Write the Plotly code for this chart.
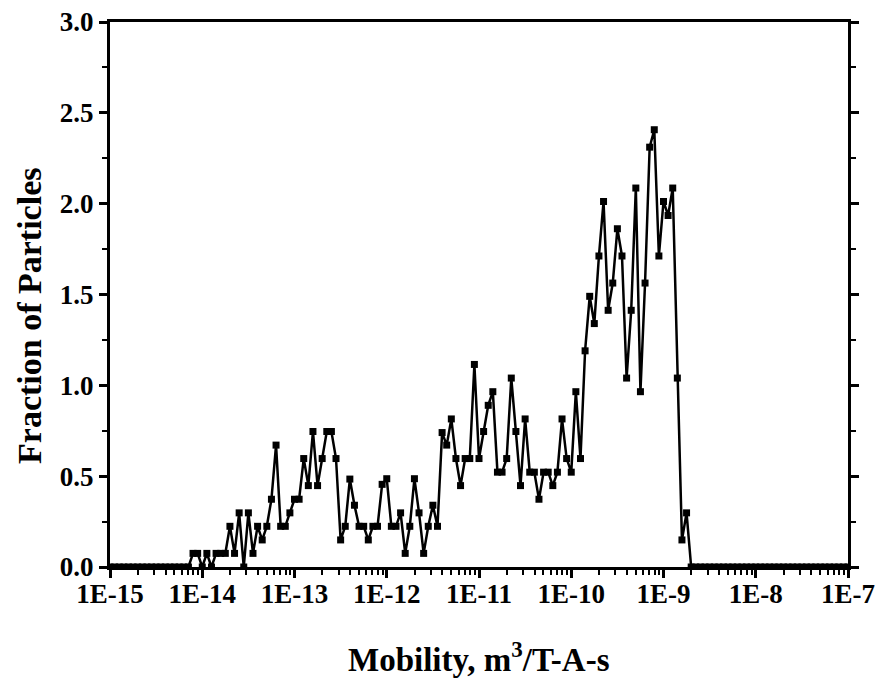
import plotly.graph_objects as go

# log10 of mobility (m^3/T-A-s)
log_mobility = [
    -15.00, -14.95, -14.90, -14.85, -14.80, -14.75, -14.70, -14.65, -14.60, -14.55,
    -14.50, -14.45, -14.40, -14.35, -14.30, -14.25, -14.20, -14.15, -14.10, -14.05,
    -14.00, -13.95, -13.90, -13.85, -13.80, -13.75, -13.70, -13.65, -13.60, -13.55,
    -13.50, -13.45, -13.40, -13.35, -13.30, -13.25, -13.20, -13.15, -13.10, -13.05,
    -13.00, -12.95, -12.90, -12.85, -12.80, -12.75, -12.70, -12.65, -12.60, -12.55,
    -12.50, -12.45, -12.40, -12.35, -12.30, -12.25, -12.20, -12.15, -12.10, -12.05,
    -12.00, -11.95, -11.90, -11.85, -11.80, -11.75, -11.70, -11.65, -11.60, -11.55,
    -11.50, -11.45, -11.40, -11.35, -11.30, -11.25, -11.20, -11.15, -11.10, -11.05,
    -11.00, -10.95, -10.90, -10.85, -10.80, -10.75, -10.70, -10.65, -10.60, -10.55,
    -10.50, -10.45, -10.40, -10.35, -10.30, -10.25, -10.20, -10.15, -10.10, -10.05,
    -10.00, -9.95, -9.90, -9.85, -9.80, -9.75, -9.70, -9.65, -9.60, -9.55,
    -9.50, -9.45, -9.40, -9.35, -9.30, -9.25, -9.20, -9.15, -9.10, -9.05,
    -9.00, -8.95, -8.90, -8.85, -8.80, -8.75, -8.70, -8.65, -8.60, -8.55,
    -8.50, -8.45, -8.40, -8.35, -8.30, -8.25, -8.20, -8.15, -8.10, -8.05,
    -8.00, -7.95, -7.90, -7.85, -7.80, -7.75, -7.70, -7.65, -7.60, -7.55,
    -7.50, -7.45, -7.40, -7.35, -7.30, -7.25, -7.20, -7.15, -7.10, -7.05,
    -7.00,
]

fraction = [
    0, 0, 0, 0, 0, 0, 0, 0, 0, 0,
    0, 0, 0, 0, 0, 0, 0, 0, 0.075, 0.075,
    0, 0.075, 0, 0.075, 0.075, 0.075, 0.224, 0.075, 0.298, 0,
    0.298, 0.075, 0.224, 0.149, 0.224, 0.373, 0.671, 0.224, 0.224, 0.298,
    0.373, 0.373, 0.597, 0.448, 0.746, 0.448, 0.597, 0.746, 0.746, 0.597,
    0.149, 0.224, 0.484, 0.340, 0.224, 0.224, 0.149, 0.224, 0.224, 0.455,
    0.486, 0.224, 0.224, 0.298, 0.075, 0.224, 0.486, 0.298, 0.075, 0.224,
    0.340, 0.224, 0.740, 0.671, 0.815, 0.597, 0.448, 0.597, 0.597, 1.115,
    0.597, 0.746, 0.890, 0.965, 0.522, 0.522, 0.597, 1.040, 0.746, 0.448,
    0.815, 0.522, 0.522, 0.373, 0.522, 0.522, 0.448, 0.522, 0.815, 0.597,
    0.522, 0.965, 0.597, 1.190, 1.490, 1.340, 1.712, 2.012, 1.413, 1.563,
    1.862, 1.712, 1.040, 1.413, 2.086, 0.965, 1.563, 2.311, 2.407, 1.712,
    2.012, 1.935, 2.086, 1.040, 0.149, 0.298, 0, 0, 0, 0,
    0, 0, 0, 0, 0, 0, 0, 0, 0, 0,
    0, 0, 0, 0, 0, 0, 0, 0, 0, 0,
    0, 0, 0, 0, 0, 0, 0, 0, 0, 0,
    0,
]

x_tick_exponents = [-15, -14, -13, -12, -11, -10, -9, -8, -7]
x_tick_labels = ["1E-15", "1E-14", "1E-13", "1E-12", "1E-11", "1E-10", "1E-9", "1E-8", "1E-7"]
y_tick_vals = [0.0, 0.5, 1.0, 1.5, 2.0, 2.5, 3.0]
y_tick_labels = ["0.0", "0.5", "1.0", "1.5", "2.0", "2.5", "3.0"]
x_title = "Mobility, m<sup>3</sup>/T-A-s"
y_title = "Fraction of Particles"

mobility = [10 ** e for e in log_mobility]
x_major = [10 ** e for e in x_tick_exponents]
x_minor = [m * 10 ** e for e in x_tick_exponents[:-1] for m in range(2, 10)]
y_minor = [0.25, 0.75, 1.25, 1.75, 2.25, 2.75]

FONT = "Liberation Serif, Times New Roman, serif"

fig = go.Figure()
fig.add_trace(go.Scatter(
    x=mobility, y=fraction, mode="lines+markers",
    line=dict(color="black", width=2.5),
    marker=dict(symbol="square", size=7, color="black"),
    showlegend=False,
))

fig.update_layout(
    width=877, height=679,
    margin=dict(l=110, r=29, t=22, b=112),
    paper_bgcolor="white", plot_bgcolor="white",
    font=dict(family=FONT, color="black"),
    xaxis=dict(
        type="log", range=[-15, -7], automargin=False,
        tickmode="array", tickvals=x_major, ticktext=x_tick_labels,
        ticks="outside", ticklen=8, tickwidth=2.5, tickcolor="black",
        ticklabelstandoff=-7,
        minor=dict(tickmode="array", tickvals=x_minor, ticks="outside",
                   ticklen=5, tickwidth=2, tickcolor="black"),
        showline=True, linewidth=3, linecolor="black", mirror=True,
        showgrid=False, zeroline=False,
        tickfont=dict(family=FONT, size=27, weight="bold"),
    ),
    yaxis=dict(
        range=[0, 3.0], automargin=False,
        tickmode="array", tickvals=y_tick_vals, ticktext=y_tick_labels,
        ticks="outside", ticklen=8, tickwidth=2.5, tickcolor="black",
        minor=dict(tickmode="array", tickvals=y_minor, ticks="outside",
                   ticklen=5, tickwidth=2, tickcolor="black"),
        showline=True, linewidth=3, linecolor="black", mirror="allticks",
        showgrid=False, zeroline=False,
        tickfont=dict(family=FONT, size=27, weight="bold"),
    ),
    annotations=[
        dict(text=x_title, xref="paper", yref="paper", x=0.5, y=0,
             xanchor="center", yanchor="middle", yshift=-90, showarrow=False,
             font=dict(family=FONT, size=33, weight="bold")),
        dict(text=y_title, xref="paper", yref="paper", x=0, y=0.4606,
             xanchor="center", yanchor="middle", xshift=-80, textangle=-90,
             showarrow=False, font=dict(family=FONT, size=34, weight="bold")),
    ],
)

fig.write_html("out.html")
